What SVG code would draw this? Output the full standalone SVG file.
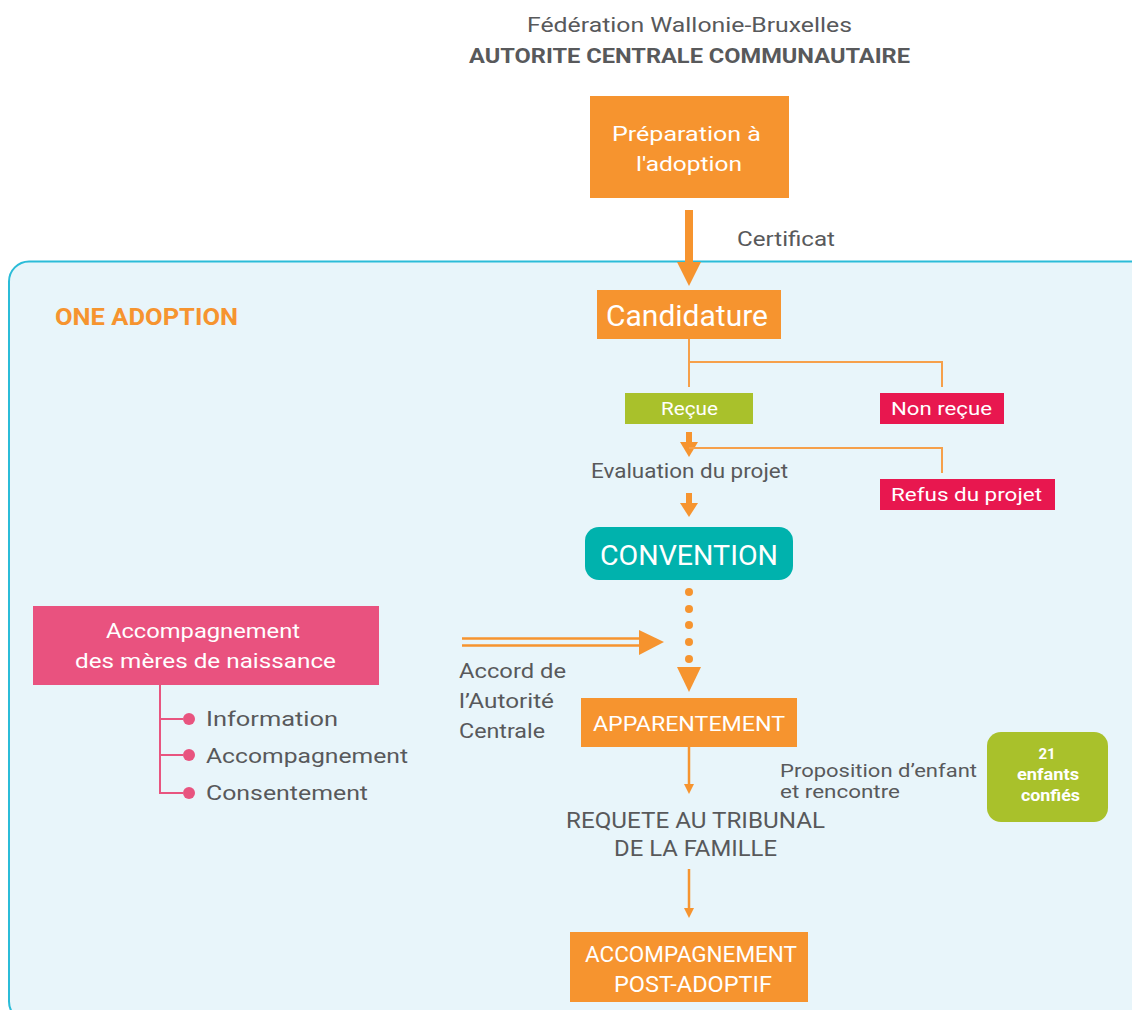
<svg xmlns="http://www.w3.org/2000/svg" width="1132" height="1010" viewBox="0 0 1132 1010">
<defs>
<style>
.t{font-family:Roboto,"Liberation Sans",sans-serif;fill:#58595b}
.w{font-family:Roboto,"Liberation Sans",sans-serif;fill:#ffffff}
.or{fill:#f6942f}
.ln{stroke:#f6a04a;stroke-width:2;fill:none}
.ah{fill:#f6942f}
.pk{stroke:#e8547f;stroke-width:2;fill:none}
</style>
</defs>
<rect x="0" y="0" width="1132" height="1010" fill="#ffffff"/>
<rect id="panel" x="9" y="261.5" width="1150" height="760" rx="20" fill="#e8f5fa" stroke="#2bbcd8" stroke-width="2"/>

<g id="title">
<text class="t" x="689.5" y="32" font-size="21" text-anchor="middle" textLength="325" lengthAdjust="spacingAndGlyphs">Fédération Wallonie-Bruxelles</text>
<text class="t" x="689.5" y="63" font-size="21" font-weight="bold" text-anchor="middle" textLength="441" lengthAdjust="spacingAndGlyphs">AUTORITE CENTRALE COMMUNAUTAIRE</text>
</g>
<g id="one-adoption"><text x="55" y="325" font-family="Roboto,'Liberation Sans',sans-serif" font-size="23" font-weight="bold" fill="#f6942f" textLength="183" lengthAdjust="spacingAndGlyphs">ONE ADOPTION</text></g>

<g id="connectors">
<rect x="685" y="210" width="8" height="54" class="ah"/>
<polygon points="677,262 701,262 689,286" class="ah"/>
<path class="ln" d="M689 339 V387 M689 362 H942 V387"/>
<rect x="686" y="432" width="6" height="12" class="ah"/>
<polygon points="680,442 698,442 689,457" class="ah"/>
<path class="ln" d="M689 448 H942 V473"/>
<rect x="686" y="493" width="6" height="11" class="ah"/>
<polygon points="680,503 698,503 689,517" class="ah"/>
<g class="ah"><circle cx="689" cy="592" r="4"/><circle cx="689" cy="609" r="4"/><circle cx="689" cy="625" r="4"/><circle cx="689" cy="642" r="4"/><circle cx="689" cy="659" r="4"/></g>
<polygon points="677,667 701,667 689,692" class="ah"/>
<path d="M462 638.5 H642 M462 645.5 H642" stroke="#f6942f" stroke-width="2.5" fill="none"/>
<polygon points="639,630 664,642 639,655" class="ah"/>
<path d="M689 747 V786" stroke="#f6942f" stroke-width="2.5"/>
<polygon points="684,784 694,784 689,794" class="ah"/>
<path d="M689 869 V910" stroke="#f6942f" stroke-width="2.5"/>
<polygon points="684,908 694,908 689,918" class="ah"/>
<path class="pk" d="M160 685 V793 H183 M160 719 H183 M160 755 H183"/>
</g>

<g id="preparation">
<rect x="590" y="96" width="199" height="102" class="or"/>
<text class="w" x="686.5" y="141" font-size="21" text-anchor="middle" textLength="149" lengthAdjust="spacingAndGlyphs">Préparation à</text>
<text class="w" x="689" y="171" font-size="21" text-anchor="middle" textLength="106" lengthAdjust="spacingAndGlyphs">l'adoption</text>
</g>
<g id="certificat"><text class="t" x="737" y="246" font-size="21" textLength="98" lengthAdjust="spacingAndGlyphs">Certificat</text></g>
<g id="candidature">
<rect x="597" y="290" width="184" height="49" class="or"/>
<text class="w" x="687" y="326" font-size="29" text-anchor="middle" textLength="162" lengthAdjust="spacingAndGlyphs">Candidature</text>
</g>
<g id="recue">
<rect x="625" y="393" width="128" height="31" fill="#a9c12b"/>
<text class="w" x="689.5" y="415" font-size="19" text-anchor="middle" textLength="57" lengthAdjust="spacingAndGlyphs">Reçue</text>
</g>
<g id="non-recue">
<rect x="880" y="393" width="124" height="31" fill="#e8174f"/>
<text class="w" x="941.5" y="415" font-size="19" text-anchor="middle" textLength="101" lengthAdjust="spacingAndGlyphs">Non reçue</text>
</g>
<g id="evaluation"><text class="t" x="689.5" y="478" font-size="20" text-anchor="middle" textLength="197" lengthAdjust="spacingAndGlyphs">Evaluation du projet</text></g>
<g id="refus">
<rect x="880" y="479" width="175" height="31" fill="#e8174f"/>
<text class="w" x="966.5" y="501" font-size="19" text-anchor="middle" textLength="151" lengthAdjust="spacingAndGlyphs">Refus du projet</text>
</g>
<g id="convention">
<rect x="585" y="527" width="208" height="53" rx="14" fill="#00b2ad"/>
<text class="w" x="689" y="565" font-size="28" text-anchor="middle" textLength="178" lengthAdjust="spacingAndGlyphs">CONVENTION</text>
</g>
<g id="meres">
<rect x="33" y="606" width="346" height="79" fill="#e9527f"/>
<text class="w" x="203" y="638" font-size="21" text-anchor="middle" textLength="194" lengthAdjust="spacingAndGlyphs">Accompagnement</text>
<text class="w" x="205.5" y="668" font-size="21" text-anchor="middle" textLength="261" lengthAdjust="spacingAndGlyphs">des mères de naissance</text>
</g>
<g id="meres-items" fill="#e8547f">
<circle cx="189" cy="719" r="6"/><circle cx="189" cy="755" r="6"/><circle cx="189" cy="793" r="6"/>
<text class="t" x="206" y="726" font-size="21" textLength="132" lengthAdjust="spacingAndGlyphs">Information</text>
<text class="t" x="206" y="763" font-size="21" textLength="202" lengthAdjust="spacingAndGlyphs">Accompagnement</text>
<text class="t" x="206" y="800" font-size="21" textLength="162" lengthAdjust="spacingAndGlyphs">Consentement</text>
</g>
<g id="accord">
<text class="t" x="459" y="678" font-size="21" textLength="107" lengthAdjust="spacingAndGlyphs">Accord de</text>
<text class="t" x="459" y="708" font-size="21" textLength="95" lengthAdjust="spacingAndGlyphs">l’Autorité</text>
<text class="t" x="459" y="738" font-size="21" textLength="86" lengthAdjust="spacingAndGlyphs">Centrale</text>
</g>
<g id="apparentement">
<rect x="581" y="698" width="216" height="49" class="or"/>
<text class="w" x="689" y="731" font-size="21" text-anchor="middle" textLength="192" lengthAdjust="spacingAndGlyphs">APPARENTEMENT</text>
</g>
<g id="proposition">
<text class="t" x="780" y="777" font-size="19" textLength="197" lengthAdjust="spacingAndGlyphs">Proposition d’enfant</text>
<text class="t" x="780" y="798" font-size="19" textLength="120" lengthAdjust="spacingAndGlyphs">et rencontre</text>
</g>
<g id="enfants">
<rect x="987" y="732" width="121" height="90" rx="14" fill="#a9c12b"/>
<text class="w" x="1047" y="759" font-size="15" font-weight="bold" text-anchor="middle">21</text>
<text class="w" x="1048" y="780" font-size="16" font-weight="bold" text-anchor="middle" textLength="62" lengthAdjust="spacingAndGlyphs">enfants</text>
<text class="w" x="1050.5" y="801" font-size="16" font-weight="bold" text-anchor="middle" textLength="59" lengthAdjust="spacingAndGlyphs">confiés</text>
</g>
<g id="requete">
<text class="t" x="695.5" y="828" font-size="22" text-anchor="middle" textLength="259" lengthAdjust="spacingAndGlyphs">REQUETE AU TRIBUNAL</text>
<text class="t" x="695.5" y="856" font-size="22" text-anchor="middle" textLength="163" lengthAdjust="spacingAndGlyphs">DE LA FAMILLE</text>
</g>
<g id="post-adoptif">
<rect x="570" y="932" width="238" height="70" class="or"/>
<text class="w" x="691" y="962" font-size="22" text-anchor="middle" textLength="212" lengthAdjust="spacingAndGlyphs">ACCOMPAGNEMENT</text>
<text class="w" x="693" y="992" font-size="22" text-anchor="middle" textLength="158" lengthAdjust="spacingAndGlyphs">POST-ADOPTIF</text>
</g>
</svg>
